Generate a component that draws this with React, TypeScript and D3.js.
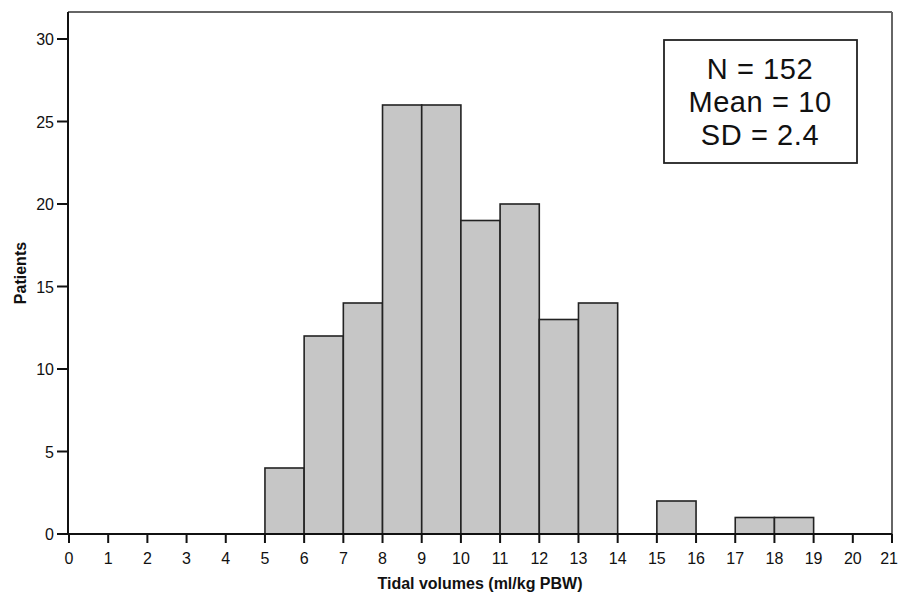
import React from "react";
import * as d3 from "d3";

const binStarts = [5, 6, 7, 8, 9, 10, 11, 12, 13, 14, 15, 16, 17, 18];
const counts = [4, 12, 14, 26, 26, 19, 20, 13, 14, 0, 2, 0, 1, 1];
const xTicks = d3.range(0, 22);
const yTicks = [0, 5, 10, 15, 20, 25, 30];
const statLines = ["N = 152", "Mean = 10", "SD = 2.4"];

export default function App() {
  const W = 899, H = 603;
  const left = 69, right = 892, top = 12, bottom = 534;
  const x = d3.scaleLinear().domain([0, 21]).range([left, right]);
  const y = d3.scaleLinear().domain([0, 30]).range([bottom, 39]);
  const font = "Arial, 'Liberation Sans', sans-serif";
  return (
    <svg width={W} height={H} style={{ position: "absolute", left: 0, top: 0, background: "#fff" }} fontFamily={font}>
      <rect x={0} y={0} width={W} height={H} fill="#fff" />
      {binStarts.map((b, i) =>
        counts[i] > 0 ? (
          <rect key={b} x={x(b)} y={y(counts[i])} width={x(b + 1) - x(b)} height={y(0) - y(counts[i])}
            fill="#c6c6c6" stroke="#222" strokeWidth={1.6} />
        ) : null
      )}
      {/* frame */}
      <line x1={left - 1} x2={right} y1={top} y2={top} stroke="#666" strokeWidth={2} />
      <line x1={right} x2={right} y1={top} y2={bottom} stroke="#666" strokeWidth={2} />
      <line x1={left - 1} x2={left - 1} y1={top} y2={bottom} stroke="#111" strokeWidth={2} />
      <line x1={left - 1} x2={right} y1={bottom} y2={bottom} stroke="#111" strokeWidth={2} />
      {yTicks.map((t) => (
        <g key={t}>
          <line x1={left - 12} x2={left - 1} y1={y(t)} y2={y(t)} stroke="#111" strokeWidth={2} />
          <text x={left - 15} y={y(t) + 6} fontSize={16} textAnchor="end" fill="#111">{t}</text>
        </g>
      ))}
      {xTicks.map((t) => {
        const last = t === xTicks[xTicks.length - 1];
        return (
          <g key={t}>
            <line x1={x(t)} x2={x(t)} y1={bottom} y2={bottom + 9} stroke="#111" strokeWidth={2} />
            <text x={last ? W - 1 : x(t)} y={bottom + 30} fontSize={16} textAnchor={last ? "end" : "middle"} fill="#111">{t}</text>
          </g>
        );
      })}
      <text x={480} y={589} fontSize={16} fontWeight="bold" textAnchor="middle" fill="#111">Tidal volumes (ml/kg PBW)</text>
      <text transform={`translate(26,273) rotate(-90)`} fontSize={16} fontWeight="bold" textAnchor="middle" fill="#111">Patients</text>
      <rect x={664} y={40} width={193} height={123} fill="#fff" stroke="#222" strokeWidth={1.8} />
      {statLines.map((s, i) => (
        <text key={s} x={760} y={79 + i * 33} fontSize={29} letterSpacing={0.6} textAnchor="middle" fill="#111">{s}</text>
      ))}
    </svg>
  );
}
